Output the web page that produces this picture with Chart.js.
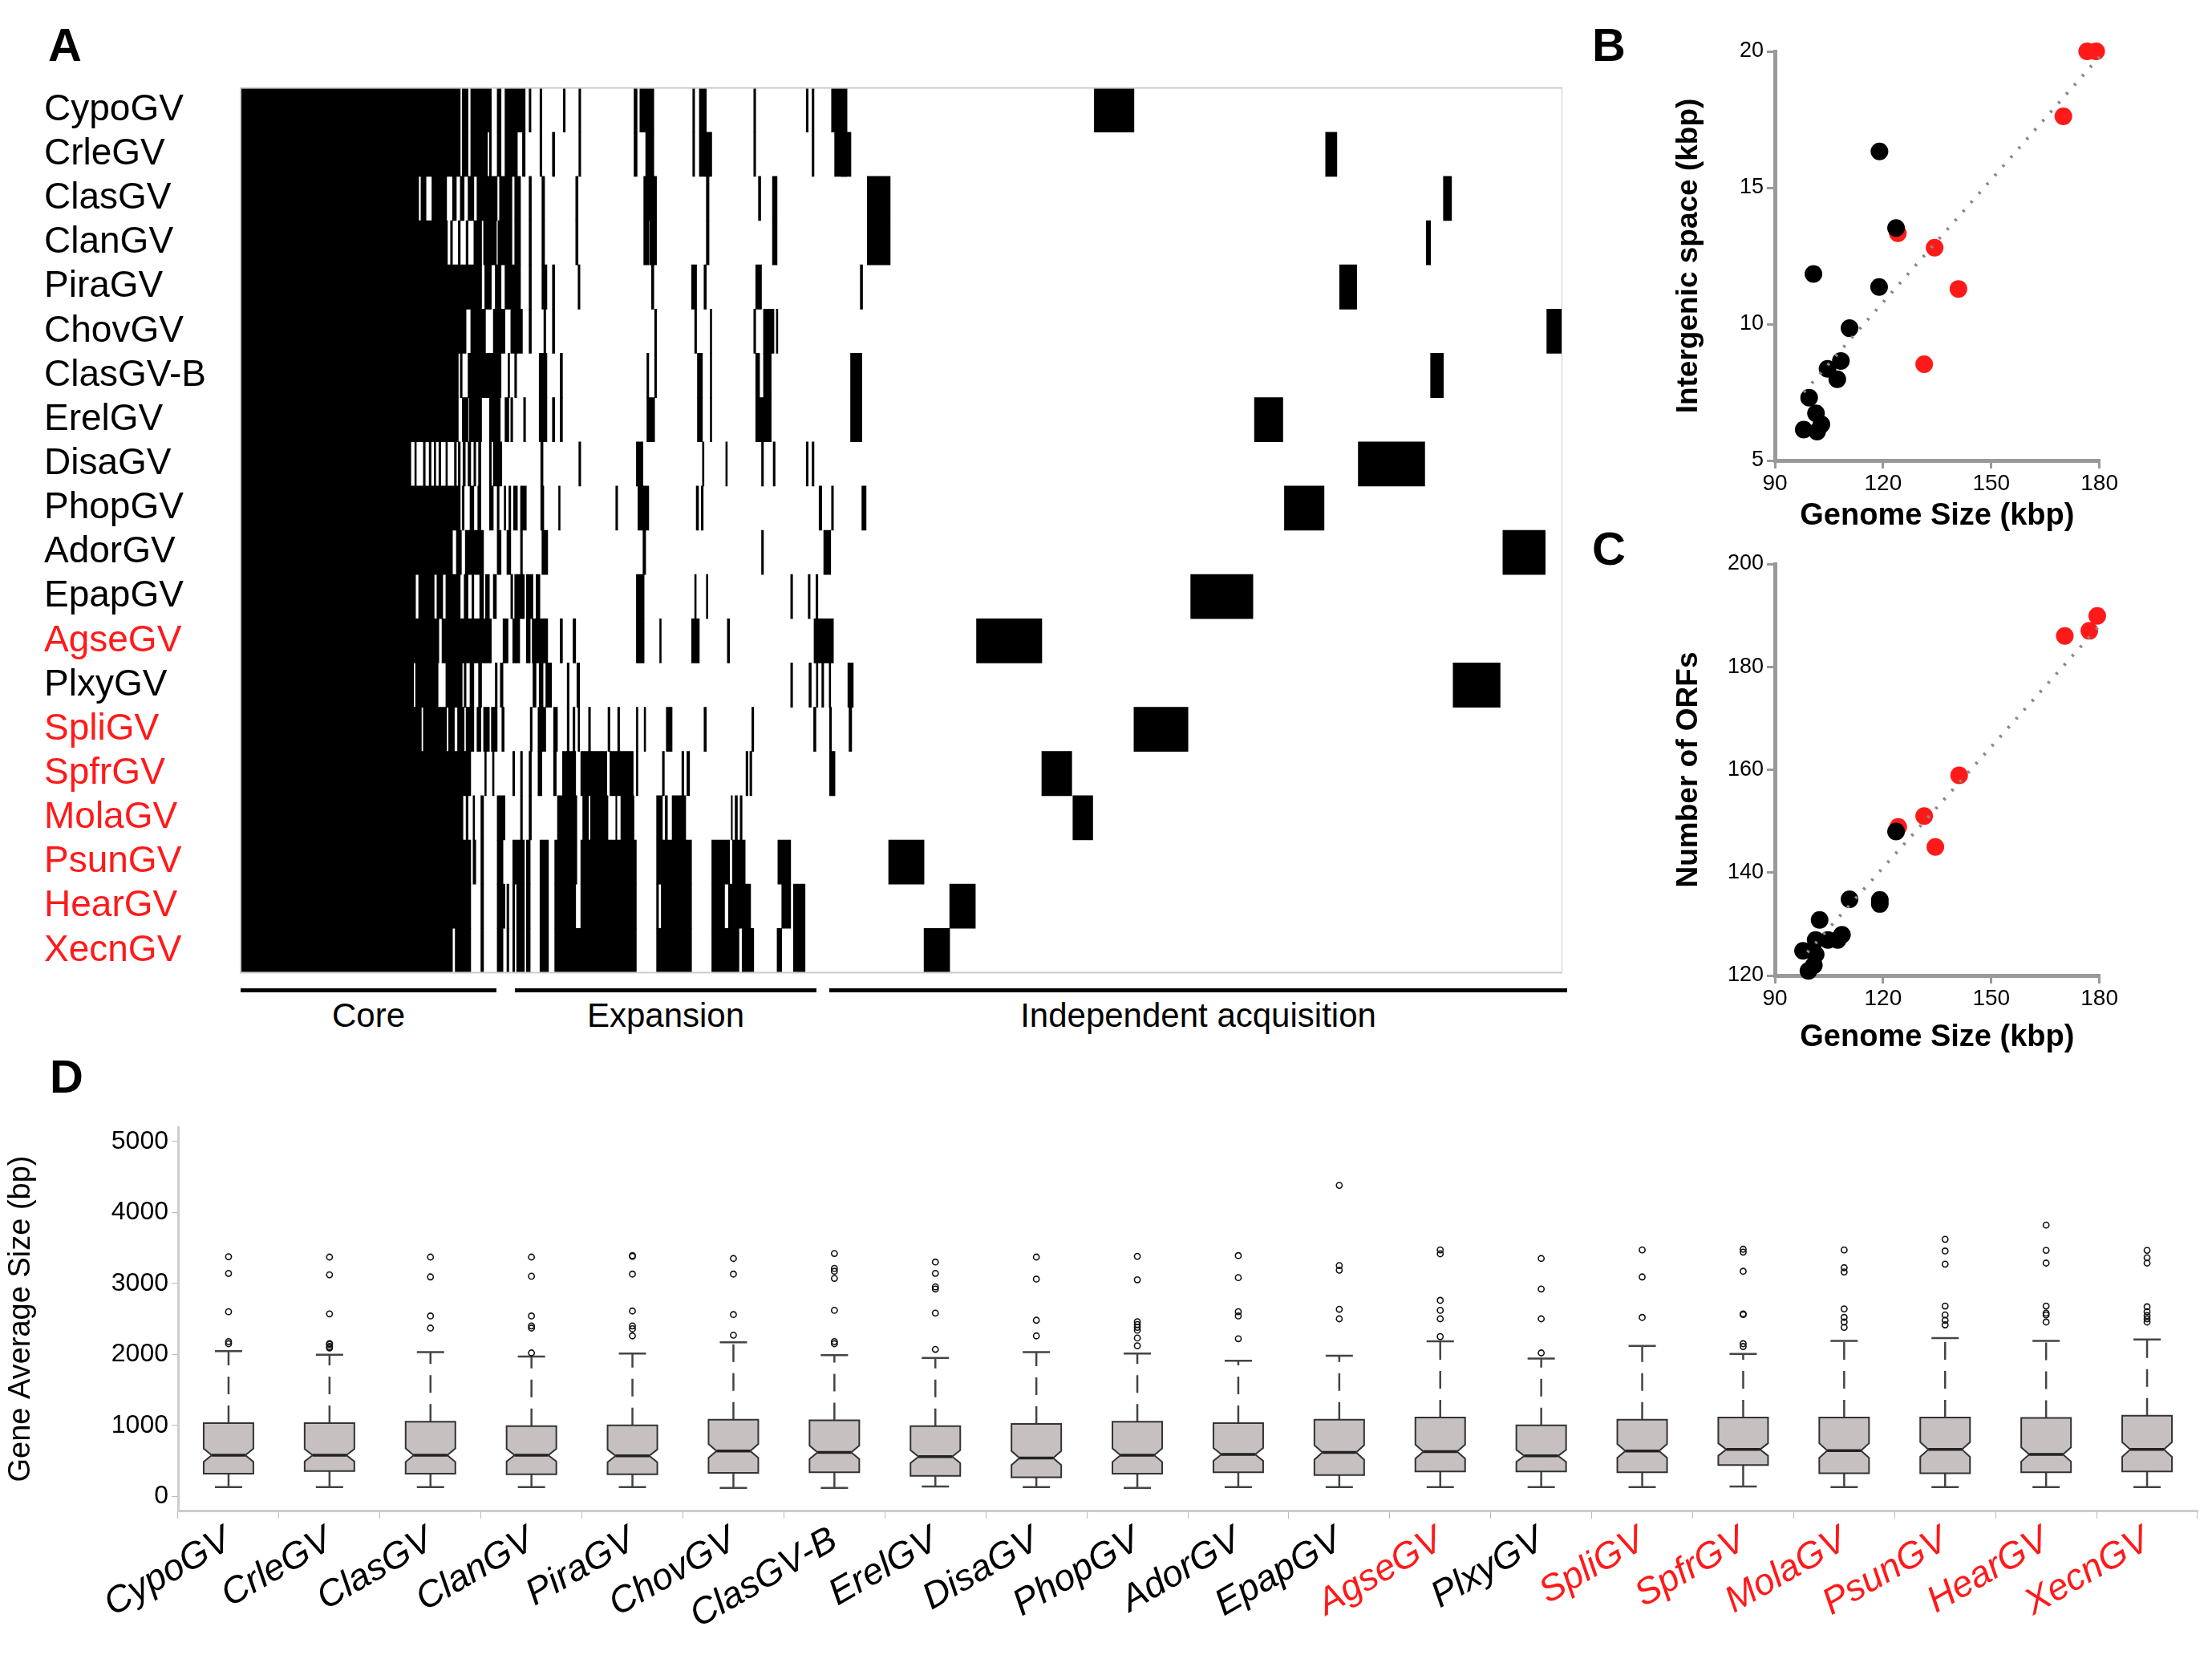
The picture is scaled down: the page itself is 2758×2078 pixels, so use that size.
<!DOCTYPE html>
<html><head><meta charset="utf-8">
<script src="https://cdn.jsdelivr.net/npm/chart.js@4"></script>
<style>
body{margin:0;background:#fff;width:2758px;height:2078px;position:relative;overflow:hidden;font-family:"Liberation Sans",Arial,sans-serif}
canvas{position:absolute}
.lab{position:absolute;font-weight:bold;font-size:58px;color:#000}
.br{position:absolute;height:0;border-top:5px solid #000}
.bt{position:absolute;font-size:42px;color:#000;text-align:center}
</style></head><body>
<div class="lab" style="left:60px;top:22px">A</div>
<div class="lab" style="left:1985px;top:22px">B</div>
<div class="lab" style="left:1985px;top:650px">C</div>
<div class="lab" style="left:62px;top:1308px">D</div>
<canvas id="cA"></canvas><canvas id="cB"></canvas><canvas id="cC"></canvas><canvas id="cD"></canvas>
<div class="br" style="left:300px;width:319px;top:1232px"></div>
<div class="br" style="left:642px;width:376px;top:1232px"></div>
<div class="br" style="left:1034px;width:920px;top:1232px"></div>
<div class="bt" style="left:300px;width:319px;top:1242px">Core</div>
<div class="bt" style="left:642px;width:376px;top:1242px">Expansion</div>
<div class="bt" style="left:1034px;width:920px;top:1242px">Independent acquisition</div>
<script>
const genomes=["CypoGV","CrleGV","ClasGV","ClanGV","PiraGV","ChovGV","ClasGV-B","ErelGV","DisaGV","PhopGV","AdorGV","EpapGV","AgseGV","PlxyGV","SpliGV","SpfrGV","MolaGV","PsunGV","HearGV","XecnGV"];
const redGenomes=["AgseGV","SpliGV","SpfrGV","MolaGV","PsunGV","HearGV","XecnGV"];
// Panel A: ortholog presence blocks per genome, [startColumn, endColumn] on a 0-3400 column scale
const presence=[
[[0,565],[570,585],[592,645],[660,670],[680,732],[742,747],[770,775],[830,835],[870,875],[1012,1020],[1027,1063],[1163,1168],[1180,1198],[1320,1325],[1455,1460],[1470,1475],[1520,1560],[2196,2298]],
[[0,565],[570,585],[592,635],[640,645],[660,670],[680,712],[725,732],[770,775],[802,808],[870,875],[1012,1020],[1042,1063],[1163,1168],[1180,1212],[1320,1325],[1470,1475],[1528,1560],[1545,1570],[2791,2820]],
[[0,458],[464,477],[492,530],[545,555],[565,575],[585,600],[608,660],[666,698],[705,720],[742,748],[775,782],[862,868],[1037,1070],[1198,1205],[1332,1338],[1368,1380],[1612,1671],[3094,3115]],
[[0,532],[540,545],[560,565],[580,585],[600,620],[625,658],[662,698],[705,720],[742,748],[775,782],[862,868],[1037,1050],[1052,1070],[1198,1205],[1368,1380],[1612,1671],[3050,3061]],
[[0,620],[628,645],[655,670],[680,720],[742,748],[775,788],[802,808],[868,873],[1057,1063],[1160,1173],[1192,1198],[1325,1340],[1594,1600],[2827,2871]],
[[0,580],[592,630],[650,680],[695,725],[742,748],[780,785],[802,808],[1065,1070],[1168,1173],[1208,1212],[1320,1325],[1345,1372],[1378,1382],[3360,3400]],
[[0,560],[565,570],[585,670],[688,692],[705,710],[768,788],[822,828],[1045,1050],[1065,1070],[1175,1188],[1208,1212],[1325,1335],[1345,1365],[1569,1598],[3061,3094]],
[[0,560],[570,585],[588,620],[640,668],[680,690],[695,700],[728,733],[768,788],[802,808],[822,828],[1045,1065],[1175,1188],[1208,1212],[1325,1365],[1569,1598],[2608,2681]],
[[0,438],[448,452],[470,475],[485,490],[498,502],[510,515],[528,532],[550,555],[560,565],[572,578],[585,592],[600,605],[612,618],[640,645],[650,672],[772,778],[870,875],[1018,1035],[1188,1192],[1248,1252],[1340,1345],[1370,1375],[1455,1460],[1470,1475],[2875,3046]],
[[0,565],[570,575],[590,600],[610,618],[640,650],[660,665],[678,682],[690,695],[702,712],[720,735],[772,780],[818,822],[965,970],[1022,1050],[1172,1178],[1185,1190],[1488,1495],[1520,1525],[1598,1609],[2685,2787]],
[[0,545],[555,568],[578,625],[660,670],[685,695],[720,725],[775,790],[1035,1042],[1340,1345],[1500,1518],[3247,3356]],
[[0,450],[458,498],[505,520],[528,565],[575,585],[595,600],[615,625],[630,640],[650,658],[695,700],[705,730],[735,752],[760,770],[1018,1038],[1168,1172],[1198,1202],[1415,1420],[1460,1465],[1480,1485],[2444,2604]],
[[0,510],[518,645],[675,688],[700,718],[735,745],[750,790],[822,828],[855,862],[1018,1038],[1078,1082],[1160,1180],[1252,1258],[1475,1525],[1893,2061]],
[[0,445],[450,508],[528,570],[575,580],[590,600],[612,620],[655,660],[668,675],[752,760],[768,778],[785,800],[840,845],[865,872],[1415,1420],[1462,1468],[1481,1485],[1495,1500],[1514,1518],[1562,1576],[3119,3240]],
[[0,465],[470,530],[535,550],[558,575],[580,600],[608,618],[625,640],[645,660],[672,678],[745,750],[765,785],[805,815],[840,845],[855,860],[868,872],[895,900],[945,950],[970,975],[1018,1022],[1038,1042],[1095,1110],[1192,1198],[1315,1320],[1474,1480],[1515,1520],[1565,1572],[2298,2437]],
[[0,592],[628,632],[648,652],[700,705],[720,725],[742,748],[765,775],[805,812],[828,862],[875,942],[950,1010],[1018,1022],[1085,1090],[1135,1140],[1148,1155],[1300,1305],[1310,1315],[1515,1529],[2061,2138]],
[[0,572],[580,585],[598,602],[618,625],[660,680],[720,725],[742,748],[815,865],[880,895],[900,945],[965,968],[978,1012],[1070,1085],[1092,1098],[1110,1145],[1262,1265],[1272,1278],[1285,1290],[2141,2192]],
[[0,592],[598,605],[618,625],[660,675],[700,730],[735,745],[770,792],[808,865],[875,1018],[1070,1160],[1212,1258],[1265,1298],[1382,1415],[1667,1758]],
[[0,592],[618,625],[660,680],[685,690],[700,705],[710,730],[735,745],[770,792],[808,862],[875,1018],[1070,1075],[1082,1160],[1212,1245],[1255,1312],[1392,1415],[1422,1452],[1824,1890]],
[[0,545],[552,592],[618,625],[660,675],[685,690],[700,705],[710,730],[735,745],[770,792],[808,1018],[1070,1160],[1212,1282],[1290,1320],[1380,1392],[1422,1452],[1758,1824]]
];
// Panel B/C data (genome size kbp)
const bBlackX=[119.0,123.6,100.7,118.9,110.7,104.6,108.3,107.3,99.5,101.4,102.9,98.0,101.7];
const bBlackY=[16.33,13.52,11.84,11.36,9.85,8.36,8.65,7.98,7.3,6.73,6.32,6.13,6.06];
const bRedX=[176.6,179.1,170.0,124.1,134.3,140.9,131.4];
const bRedY=[20,20,17.62,13.33,12.8,11.29,8.53];
const bTrendX=[98,180]; const bTrendY=[7.5,19.8];
const cBlackX=[123.6,110.7,119.1,119.1,102.4,101.3,104.7,107.4,108.6,97.8,101.3,100.8,99.3];
const cBlackY=[148,134.8,134.7,133.9,130.8,126.9,126.9,126.9,127.9,124.8,124.1,122.0,120.9];
const cRedX=[124.2,131.4,134.5,141.1,170.4,177.2,179.4];
const cRedY=[148.9,151,145,158.9,186,187,189.9];
const cTrendX=[99,180]; const cTrendY=[124.5,188];
const xTicksBC=[90,120,150,180];
// Panel D boxplots
const boxLow=[130,130,130,130,130,120,120,140,130,120,130,130,130,130,130,140,130,130,130,130];
const boxQ1=[320,355,320,310,310,330,340,290,270,320,340,300,350,350,340,440,325,325,340,350];
const boxMed=[580,580,580,580,570,640,620,560,540,580,590,620,630,570,640,660,645,660,590,660];
const boxQ3=[1030,1030,1050,990,1000,1080,1070,990,1020,1050,1030,1080,1110,1000,1080,1110,1110,1110,1105,1135];
const boxHigh=[2045,1995,2030,1970,2010,2170,1990,1950,2030,2010,1910,1980,2185,1940,2120,2005,2190,2230,2190,2210];
const boxOut=[
[2150,2180,2600,3140,3375],[2090,2110,2140,2150,2570,3120,3370],[2370,2540,3090,3370],[2020,2370,2400,2540,3100,3370],
[2260,2360,2400,2610,3130,3380,3390],[2270,2560,3130,3350],[2150,2180,2620,3070,3170,3210,3420],[2070,2580,2920,2950,3140,3300],
[2260,2480,3060,3370],[2120,2230,2340,2380,2420,2460,3050,3380],[2220,2540,2600,3080,3390],[2500,2635,3185,3250,4380],
[2250,2500,2620,2760,3415,3470],[2020,2500,2920,3350],[2520,3090,3470],[2110,2150,2560,2570,3170,3440,3480],
[2380,2455,2520,2640,3160,3220,3470],[2415,2480,2555,2680,3270,3455,3620],[2455,2555,2580,2680,3285,3465,3820],
[2455,2500,2545,2600,2670,3285,3360,3465]];
const yTicksD=[0,1000,2000,3000,4000,5000];

Chart.defaults.font.family='"Liberation Sans",Arial,sans-serif';
Chart.defaults.color='#000';
function place(id,l,t,w,h){const c=document.getElementById(id);c.width=w;c.height=h;c.style.left=l+'px';c.style.top=t+'px';c.style.width=w+'px';c.style.height=h+'px';return c;}
const colFor=g=>redGenomes.includes(g)?'#ff1a1a':'#000';

// ---- Panel A
const maxLen=Math.max(...presence.map(r=>r.length));
const dsA=[];
for(let k=0;k<maxLen;k++){dsA.push({data:presence.map(r=>r[k]||null),backgroundColor:'#000',borderWidth:0,borderSkipped:false,barPercentage:1,categoryPercentage:1,grouped:false});}
new Chart(place('cA',55,82,1893,1158),{type:'bar',data:{labels:genomes,datasets:dsA},
options:{indexAxis:'y',responsive:false,animation:false,devicePixelRatio:1,layout:{padding:0},
plugins:{legend:{display:false},tooltip:{enabled:false}},
scales:{x:{min:0,max:3400,display:false},
y:{grid:{display:false},border:{display:false},afterFit:s=>{s.width=245;},
ticks:{autoSkip:false,crossAlign:'far',padding:0,font:{size:46},color:c=>colFor(genomes[c.index])}}}},
plugins:[{id:'frame',afterDraw(ch){const a=ch.chartArea,x=ch.ctx;x.save();x.strokeStyle='#ccc';x.lineWidth=2;x.strokeRect(a.left,a.top,a.width,a.height);x.restore();}}]});

// ---- Panels B, C
function scatter(id,top,h,padTop,axisH,bx,by,rx,ry,tx,ty,ymin,ymax,ystep,ytitle){
 const pt=(xs,ys)=>xs.map((v,i)=>({x:v,y:ys[i]}));
 new Chart(place(id,2080,top,563,h),{type:'scatter',data:{datasets:[
  {type:'line',data:pt(tx,ty),borderColor:'#888',borderWidth:4,borderDash:[3,12],pointRadius:0,fill:false,clip:false},
  {data:pt(bx,by),backgroundColor:'#000',pointRadius:11,pointBorderWidth:0,clip:false},
  {data:pt(rx,ry),backgroundColor:'#ff1a1a',pointRadius:11,pointBorderWidth:0,clip:false}]},
 options:{responsive:false,animation:false,devicePixelRatio:1,layout:{padding:{top:padTop,right:0}},
  plugins:{legend:{display:false},tooltip:{enabled:false}},
  scales:{x:{type:'linear',min:90,max:180,afterBuildTicks:s=>{s.ticks=xTicksBC.map(v=>({value:v}));},
    grid:{drawOnChartArea:false,color:'#999',tickLength:10,lineWidth:3},border:{color:'#999',width:5},
    ticks:{font:{size:28},padding:2},title:{display:true,text:'Genome Size (kbp)',font:{size:38,weight:'bold'},padding:{top:4}},
    afterFit:s=>{s.height=axisH;}},
   y:{min:ymin,max:ymax,ticks:{stepSize:ystep,font:{size:27},padding:4},
    grid:{drawOnChartArea:false,color:'#999',tickLength:10,lineWidth:3},border:{color:'#999',width:5},
    title:{display:true,text:ytitle,font:{size:37,weight:'bold'},padding:{bottom:4}},afterFit:s=>{s.width=133;}}}}});
}
scatter('cB',20,650,44,96,bBlackX,bBlackY,bRedX,bRedY,bTrendX,bTrendY,5,20,5,'Intergenic space (kbp)');
scatter('cC',650,670,53,104,cBlackX,cBlackY,cRedX,cRedY,cTrendX,cTrendY,120,200,20,'Number of ORFs');

// ---- Panel D
new Chart(place('cD',0,1380,2758,698),{type:'bar',data:{labels:genomes,datasets:[{data:genomes.map(()=>null)}]},
options:{responsive:false,animation:false,devicePixelRatio:1,layout:{padding:{top:25,right:18}},
 plugins:{legend:{display:false},tooltip:{enabled:false}},
 scales:{x:{grid:{drawOnChartArea:false,color:'#bbb',tickLength:10},border:{color:'#ccc',width:3},
   ticks:{maxRotation:30,minRotation:30,font:{size:46,style:'italic'},color:c=>colFor(genomes[c.index]),padding:0},afterFit:s=>{s.height=195;}},
  y:{min:-200,max:5200,afterBuildTicks:s=>{s.ticks=yTicksD.map(v=>({value:v}));},
   grid:{drawOnChartArea:false,color:'#bbb',tickLength:8},border:{color:'#ccc',width:3},
   ticks:{font:{size:32},padding:4,callback:v=>String(v)},title:{display:true,text:'Gene Average Size (bp)',font:{size:38},padding:{bottom:6}},afterFit:s=>{s.width=222;}}}},
plugins:[{id:'box',afterDatasetsDraw(ch){
 const x=ch.ctx,xs=ch.scales.x,ys=ch.scales.y,Y=v=>ys.getPixelForValue(v);
 x.save();
 genomes.forEach((g,i)=>{
  const cx=xs.getPixelForValue(i),hw=31,ins=10,cap=17;
  const iqr=boxQ3[i]-boxQ1[i],n=0.13*iqr;
  x.strokeStyle='#444';x.lineWidth=2.5;
  x.setLineDash([22,14]);x.beginPath();x.moveTo(cx,Y(boxQ3[i]));x.lineTo(cx,Y(boxHigh[i]));x.stroke();
  x.setLineDash([]);x.beginPath();x.moveTo(cx,Y(boxQ1[i]));x.lineTo(cx,Y(boxLow[i]));x.stroke();
  x.beginPath();x.moveTo(cx-cap,Y(boxHigh[i]));x.lineTo(cx+cap,Y(boxHigh[i]));x.moveTo(cx-cap,Y(boxLow[i]));x.lineTo(cx+cap,Y(boxLow[i]));x.stroke();
  x.beginPath();
  x.moveTo(cx-hw,Y(boxQ3[i]));x.lineTo(cx+hw,Y(boxQ3[i]));x.lineTo(cx+hw,Y(boxMed[i]+n));x.lineTo(cx+hw-ins,Y(boxMed[i]));
  x.lineTo(cx+hw,Y(boxMed[i]-n));x.lineTo(cx+hw,Y(boxQ1[i]));x.lineTo(cx-hw,Y(boxQ1[i]));x.lineTo(cx-hw,Y(boxMed[i]-n));
  x.lineTo(cx-hw+ins,Y(boxMed[i]));x.lineTo(cx-hw,Y(boxMed[i]+n));x.closePath();
  x.fillStyle='#c6c0c1';x.fill();x.strokeStyle='#333';x.lineWidth=2;x.stroke();
  x.lineWidth=3.5;x.strokeStyle='#222';x.beginPath();x.moveTo(cx-hw+ins,Y(boxMed[i]));x.lineTo(cx+hw-ins,Y(boxMed[i]));x.stroke();
  x.lineWidth=1.6;x.strokeStyle='#111';
  boxOut[i].forEach(v=>{x.beginPath();x.arc(cx,Y(v),3.6,0,Math.PI*2);x.stroke();});
 });
 x.restore();}}]});
</script></body></html>
